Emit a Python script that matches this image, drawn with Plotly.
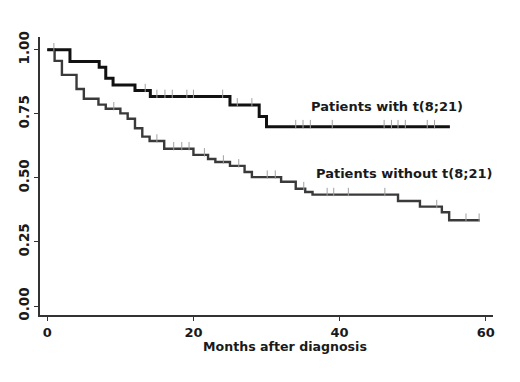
import numpy as np
import plotly.graph_objects as go

# Kaplan-Meier data
with_times = [0, 3.1, 7.1, 8.0, 9.0, 12.0, 14.1, 25.0, 29.0, 30.0, 55.1]
with_surv = [1.0, 0.954, 0.932, 0.889, 0.863, 0.841, 0.818, 0.785, 0.74, 0.70, 0.70]
with_censor = [13.4, 15.0, 16.1, 17.1, 19.1, 20.0, 24.0, 26.0, 28.0, 34.0, 35.0,
               36.0, 39.0, 46.1, 47.1, 48.0, 49.0, 52.0, 53.0]

without_times = [0, 1.0, 2.0, 4.0, 5.0, 7.0, 8.0, 10.0, 11.0, 12.0, 13.0, 14.0, 16.0,
                 20.0, 22.0, 23.0, 25.0, 27.0, 28.0, 32.0, 34.0, 35.3, 36.3, 48.0,
                 51.0, 54.0, 55.0, 59.2]
without_surv = [1.0, 0.957, 0.902, 0.847, 0.809, 0.786, 0.77, 0.752, 0.731, 0.694,
                0.661, 0.644, 0.614, 0.59, 0.574, 0.562, 0.547, 0.523, 0.503, 0.485,
                0.458, 0.445, 0.435, 0.41, 0.388, 0.366, 0.335, 0.335]
without_censor = [0.9, 9.1, 15.0, 17.3, 18.4, 19.4, 21.5, 24.1, 26.2, 30.1, 31.2, 35.1,
                  38.3, 39.2, 41.2, 46.2, 53.3, 57.3, 59.1]

x_ticks = [0, 20, 40, 60]
y_ticks = [0.0, 0.25, 0.5, 0.75, 1.0]
y_tick_text = ["0.00", "0.25", "0.50", "0.75", "1.00"]

labels = ["Patients with t(8;21)", "Patients without t(8;21)"]
label_pos = [(46.5, 0.777), (48.8, 0.516)]
x_title = "Months after diagnosis"


def surv_at(times, surv, t):
    idx = np.searchsorted(np.array(times), t, side="right") - 1
    return surv[max(idx, 0)]


def bold(size):
    return dict(family="DejaVu Sans", size=size, color="#1a1a1a", weight="bold")


fig = go.Figure()

fig.add_trace(go.Scatter(x=without_times, y=without_surv, mode="lines",
                         line=dict(shape="hv", color="#3a3a3a", width=2.4),
                         showlegend=False, hoverinfo="skip"))
fig.add_trace(go.Scatter(x=with_times, y=with_surv, mode="lines",
                         line=dict(shape="hv", color="#111111", width=3),
                         showlegend=False, hoverinfo="skip"))

off = 0.01
fig.add_trace(go.Scatter(x=with_censor,
                         y=[surv_at(with_times, with_surv, t) + off for t in with_censor],
                         mode="markers",
                         marker=dict(symbol="line-ns", size=6, line=dict(width=1, color="#a0a0a0")),
                         showlegend=False, hoverinfo="skip"))
fig.add_trace(go.Scatter(x=without_censor,
                         y=[surv_at(without_times, without_surv, t) + off for t in without_censor],
                         mode="markers",
                         marker=dict(symbol="line-ns", size=6, line=dict(width=1, color="#a0a0a0")),
                         showlegend=False, hoverinfo="skip"))

for txt, (lx, ly) in zip(labels, label_pos):
    fig.add_annotation(x=lx, y=ly, text=txt, showarrow=False, font=bold(13),
                       xanchor="center", yanchor="middle")

# x-axis title, placed slightly right of the axis centre as in the original
fig.add_annotation(x=0.54, y=-0.114, xref="paper", yref="paper", text=x_title,
                   showarrow=False, font=bold(12.6), xanchor="center", yanchor="middle")

# page body has an 8px margin, so the figure is 8px smaller than the window
fig.update_layout(
    width=512, height=374,
    margin=dict(l=32, r=27, t=29, b=67, autoexpand=False),
    paper_bgcolor="white", plot_bgcolor="white",
    font=bold(13),
)
fig.update_xaxes(range=[-1, 61], tickvals=x_ticks, ticks="outside", ticklen=4,
                 tickcolor="#333333", showline=True, linecolor="#333333", linewidth=2,
                 showgrid=False, zeroline=False, tickfont=bold(13), automargin=False)
fig.update_yaxes(range=[-0.035, 1.05], tickvals=y_ticks, ticktext=y_tick_text,
                 ticks="outside", ticklen=4, tickcolor="#333333", tickangle=-90,
                 showline=True, linecolor="#333333", linewidth=2, automargin=False,
                 showgrid=False, zeroline=False, tickfont=bold(13.5))

fig.write_html("out.html")
